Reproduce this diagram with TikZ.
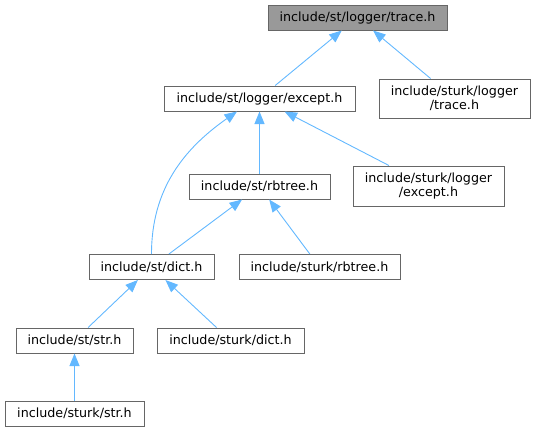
\documentclass[tikz,border=0pt]{standalone}
\usepackage{fontspec}
\setmainfont{DejaVu Sans}
\usetikzlibrary{arrows.meta}

\definecolor{edgeblue}{HTML}{63B8FF}
\definecolor{boxline}{HTML}{666666}
\definecolor{rootfill}{HTML}{999999}

\begin{document}
\begin{tikzpicture}[x=1pt, y=-1pt,
        file/.style={rectangle, draw=boxline, line width=1pt, fill=white, inner sep=0pt,
                     minimum height=25pt, align=center, font=\fontsize{12.7}{14.5}\selectfont},
        root/.style={file, fill=rootfill},
        arrow/.style={-{Triangle[length=12.5pt, width=10pt]}, line width=0.9pt, draw=edgeblue}
    ]
        \useasboundingbox (0,0) rectangle (535,432);

        \node[root, minimum width=179pt] (trace) at (357.5,17.5) {include/st/logger/trace.h};
        \node[file, minimum width=191pt] (except) at (259.5,98.5) {include/st/logger/except.h};
        \node[file, minimum width=151pt, minimum height=39pt] (sturktrace) at (454.5,98.5) {include/sturk/logger\\/trace.h};
        \node[file, minimum width=141pt] (rbtree) at (259.5,186.5) {include/st/rbtree.h};
        \node[file, minimum width=151pt, minimum height=40pt] (sturkexcept) at (428.5,186) {include/sturk/logger\\/except.h};
        \node[file, minimum width=125pt] (dict) at (151.5,267) {include/st/dict.h};
        \node[file, minimum width=161pt] (sturkrbtree) at (319.5,267) {include/sturk/rbtree.h};
        \node[file, minimum width=117pt] (str) at (74.5,340.5) {include/st/str.h};
        \node[file, minimum width=147pt] (sturkdict) at (230.5,340.5) {include/sturk/dict.h};
        \node[file, minimum width=139pt] (sturkstr) at (74.5,413.5) {include/sturk/str.h};

        \draw[arrow] (except) -- (trace);
        \draw[arrow] (sturktrace) -- (trace);
        \draw[arrow] (rbtree) -- (except);
        \draw[arrow] (sturkexcept) -- (except);
        \draw[arrow] (dict.north) to[out=90, in=215] ([xshift=-22.5pt]except.south);
        \draw[arrow] (dict) -- (rbtree);
        \draw[arrow] (sturkrbtree) -- (rbtree);
        \draw[arrow] (str) -- (dict);
        \draw[arrow] (sturkdict) -- (dict);
        \draw[arrow] (sturkstr) -- (str);
    \end{tikzpicture}
\end{document}
